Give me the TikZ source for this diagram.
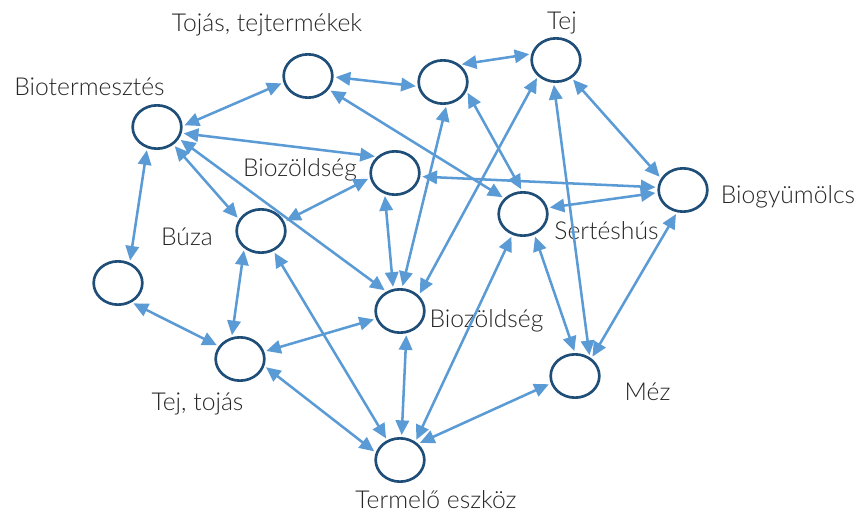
\documentclass[tikz,border=0pt]{standalone}
\usepackage{fontspec}
\setmainfont{Lato Light}
\usetikzlibrary{arrows.meta,shapes.geometric}
\definecolor{korkek}{HTML}{1F4E79}
\definecolor{nyilkek}{HTML}{5B9BD5}
\definecolor{szoveg}{HTML}{262626}
\begin{document}
\begin{tikzpicture}[
    x=0.75pt, y=-0.75pt,
    font=\fontsize{18.5}{22}\selectfont,
    kor/.style={draw=korkek, line width=2pt, ellipse, minimum width=36.5pt, minimum height=32.5pt, inner sep=0pt},
    cim/.style={anchor=base, text=szoveg, inner sep=0pt},
    arr/.style={{Triangle[length=11pt,width=10pt]}-{Triangle[length=11pt,width=10pt]}, line width=1.9pt, draw=nyilkek, shorten <=1.5pt, shorten >=1.5pt}
  ]
    \useasboundingbox (0,0) rectangle (867,516);

    \node[kor] (tojas)    at (308,76)  {};
    \node[kor] (u1)       at (443,82)  {};
    \node[kor] (tej)      at (556,60)  {};
    \node[kor] (biot)     at (157,127) {};
    \node[kor] (bioz1)    at (395,173) {};
    \node[kor] (buza)     at (261,231) {};
    \node[kor] (u2)       at (118,283) {};
    \node[kor] (tejtojas) at (240,359) {};
    \node[kor] (bioz2)    at (400,311) {};
    \node[kor] (termelo)  at (400,460) {};
    \node[kor] (sertes)   at (523,214) {};
    \node[kor] (biogy)    at (683,190) {};
    \node[kor] (mez)      at (575,376) {};

    \node[cim] (lTojas)    at (267,31.5) {Tojás, tejtermékek};
    \node[cim] (lTej)      at (562,29.3) {Tej};
    \node[cim] (lBiot)     at (89.5,95.7) {Biotermesztés};
    \node[cim] (lBioz1)    at (300,176.7) {Biozöldség};
    \node[cim] (lBuza)     at (187,245.7) {Búza};
    \node[cim] (lTejtojas) at (197.5,410) {Tej, tojás};
    \node[cim] (lBioz2)    at (486.5,327.3) {Biozöldség};
    \node[cim] (lTermelo)  at (436,508) {Termelő eszköz};
    \node[cim] (lSertes)   at (606.5,239.3) {Sertéshús};
    \node[cim] (lBiogy)    at (788,203.3) {Biogyümölcs};
    \node[cim] (lMez)      at (647.5,401) {Méz};

    \draw[arr] (biot.2) -- (tojas.-165);
    \draw[arr] (tojas.-2) -- (u1.-170);
    \draw[arr] (biot.-14) -- (bioz1.138);
    \draw[arr] (biot.-47) -- (buza.152);
    \draw[arr] (biot.-115) -- (u2.60);
    \draw[arr] (biot.-28) -- (bioz2.125);
    \draw[arr] (bioz1.191) -- (buza.22);
    \draw[arr] (tojas.-33) -- (sertes.140);
    \draw[arr] (bioz1.-116) -- (bioz2.107);
    \draw[arr] (u1.-81) -- (bioz2.85);
    \draw[arr] (tej.-138) -- (bioz2.40);
    \draw[arr] (u1.-21) -- (sertes.92);
    \draw[arr] (bioz1.-8) -- (biogy.174);
    \draw[arr] (u1.46) -- (tej.166);
    \draw[arr] (tej.-49) -- (biogy.152);
    \draw[arr] (sertes.14) -- (biogy.186);
    \draw[arr] (tej.-96) -- (mez.52);
    \draw[arr] (sertes.-61) -- (mez.90);
    \draw[arr] (biogy.-105) -- (mez.47);
    \draw[arr] (sertes.-117) -- (termelo.50);
    \draw[arr] (mez.197) -- (termelo.42);
    \draw[arr] (bioz2.-74) -- (termelo.86);
    \draw[arr] (buza.-58) -- (termelo.123);
    \draw[arr] (tejtojas.-16) -- (termelo.163);
    \draw[arr] (tejtojas.17) -- (bioz2.198);
    \draw[arr] (buza.-134) -- (tejtojas.111);
    \draw[arr] (u2.-55) -- (tejtojas.149);
  \end{tikzpicture}
\end{document}
